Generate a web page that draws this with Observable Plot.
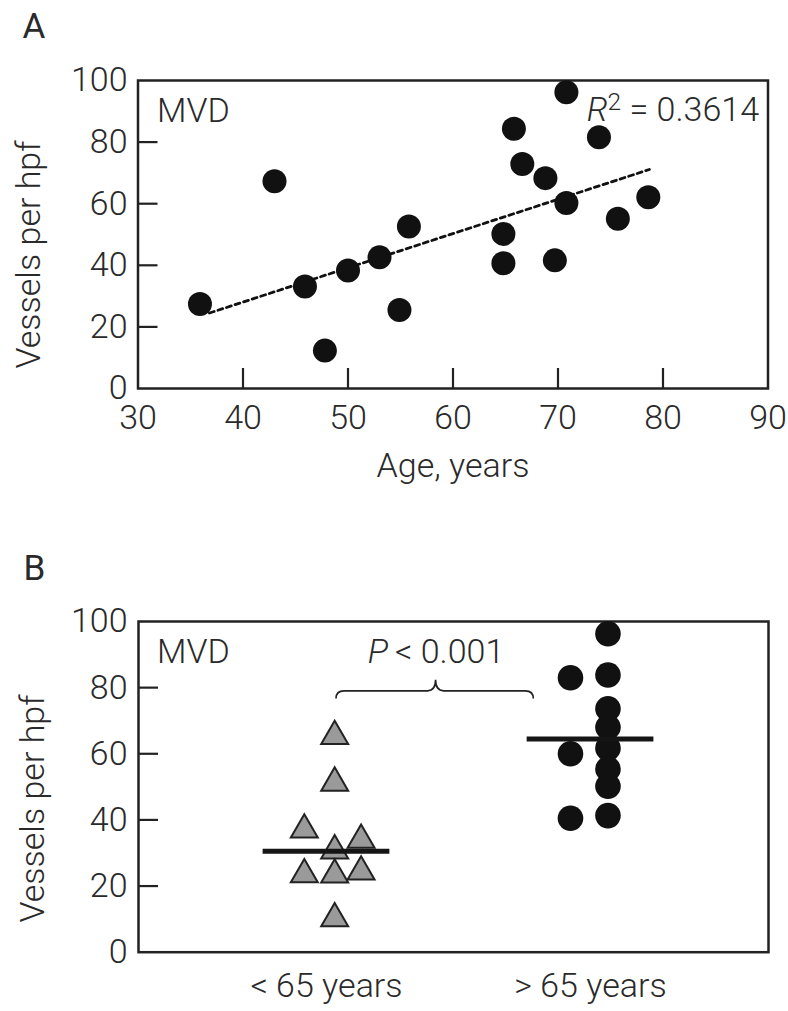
<!DOCTYPE html>
<html>
<head>
<meta charset="utf-8">
<script src="https://cdn.jsdelivr.net/npm/d3@7"></script>
<script src="https://cdn.jsdelivr.net/npm/@observablehq/plot@0.6"></script>
<style>
  html, body { margin: 0; padding: 0; background: #fff; }
  #chart svg { display: block; }
</style>
</head>
<body>
<div id="chart"></div>
<script>
// ---------- Panel A: MVD vs age ----------
const ageA = [35.9, 43, 45.9, 47.8, 50, 53, 54.9, 55.8, 64.8, 64.8, 65.8, 66.6, 68.8, 69.7, 70.8, 70.8, 73.9, 75.7, 78.6];
const mvdA = [27.4, 67.3, 33.1, 12.3, 38.3, 42.6, 25.5, 52.6, 50.2, 40.7, 84.3, 72.9, 68.3, 41.6, 96.2, 60.2, 81.6, 55.1, 62.1];
const fitAge = [36.8, 78.7];
const fitMvd = [24.5, 71.1];
const xTicksA = [30, 40, 50, 60, 70, 80, 90];
const innerTicksXA = [40, 50, 60, 70, 80];
const yTicks = [0, 20, 40, 60, 80, 100];
const innerTicksY = [20, 40, 60, 80];
const r2Label = "R2 = 0.3614";

// ---------- Panel B: MVD by age group ----------
const groupLabels = ["< 65 years", "> 65 years"];
const youngMvd = [65.3, 51.2, 37.0, 33.9, 30.7, 23.5, 23.4, 24.3, 10.2];
const youngOffset = [0.031, 0.031, -0.084, 0.131, 0.031, -0.084, 0.031, 0.131, 0.031];
const oldMvd = [96.3, 83.0, 83.8, 73.6, 68.0, 60.0, 61.7, 55.4, 50.2, 40.5, 41.3];
const oldOffset = [0.066, -0.076, 0.066, 0.066, 0.066, -0.076, 0.066, 0.066, 0.066, -0.076, 0.066];
const groupMeans = [30.5, 64.5];
const pLabel = "P < 0.001";
const braceX = [1.038, 1.415, 1.785];
const braceY = [76.6, 78.9, 82.2]; // end, bar, tip

const FONT = "Roboto, 'Open Sans', 'DejaVu Sans', sans-serif";
const INK = "#222";
const TEXT = "#2a2a2a";
const W = 788;

const baseStyle = {fontFamily: FONT, fontSize: "34px", fontWeight: 300, color: TEXT, background: "white", overflow: "visible"};

// Panel A geometry
const A = {h: 520, top: 80, right: 20.5, bottom: 132, left: 137.5};
const innerWA = W - A.left - A.right, innerHA = A.h - A.top - A.bottom;

const ptsA = ageA.map((a, i) => ({age: a, mvd: mvdA[i]}));
const fitA = fitAge.map((a, i) => ({age: a, mvd: fitMvd[i]}));

const plotA = Plot.plot({
  width: W, height: A.h,
  marginTop: A.top, marginRight: A.right, marginBottom: A.bottom, marginLeft: A.left,
  style: baseStyle,
  x: {domain: [30, 90], ticks: xTicksA, tickSize: 0, tickPadding: 16, label: null},
  y: {domain: [0, 100], ticks: yTicks, tickSize: 0, tickPadding: 10.5, label: null},
  marks: [
    Plot.frame({stroke: INK, strokeWidth: 2.5}),
    Plot.tickY(innerTicksY, {y: d => d, insetRight: innerWA - 20, stroke: INK, strokeWidth: 2.2}),
    Plot.tickX(innerTicksXA, {x: d => d, insetTop: innerHA - 20, stroke: INK, strokeWidth: 2.2}),
    Plot.line(fitA, {x: "age", y: "mvd", stroke: "#111", strokeWidth: 2.8, strokeDasharray: "5,4"}),
    Plot.dot(ptsA, {x: "age", y: "mvd", r: 12, fill: "#111"}),
    Plot.text(["MVD"], {text: d => d, frameAnchor: "top-left", dx: 19, dy: 17, lineAnchor: "top", textAnchor: "start"}),
    Plot.text([r2Label], {text: d => d, frameAnchor: "top-right", dx: -9, dy: 16, lineAnchor: "top", textAnchor: "end"}),
    Plot.text(["Age, years"], {text: d => d, frameAnchor: "bottom", dy: 64, lineAnchor: "top", textAnchor: "middle"}),
    Plot.text(["Vessels per hpf"], {text: d => d, frameAnchor: "left", rotate: -90, textAnchor: "middle", lineAnchor: "middle", dx: -108.5, dy: 20}),
    Plot.text(["A"], {text: d => d, frameAnchor: "top-left", dx: -115.5, dy: -67, lineAnchor: "top", textAnchor: "start", fontWeight: 400, fontSize: 35})
  ]
});

// Panel B geometry
const B = {h: 491, top: 101, right: 20, bottom: 59.3, left: 138};
const innerWB = W - B.left - B.right;

const young = youngMvd.map((v, i) => ({pos: 1 + youngOffset[i], mvd: v}));
const old = oldMvd.map((v, i) => ({pos: 2 + oldOffset[i], mvd: v}));

function braceMark(index, scales) {
  const x = scales.x, y = scales.y;
  const x1 = x(braceX[0]), xm = x(braceX[1]), x2 = x(braceX[2]);
  const yE = y(braceY[0]), yB = y(braceY[1]), yT = y(braceY[2]);
  const r = 8;
  const d = `M${x1},${yE} Q${x1},${yB} ${x1 + r},${yB} L${xm - r},${yB} Q${xm},${yB} ${xm},${yT} Q${xm},${yB} ${xm + r},${yB} L${x2 - r},${yB} Q${x2},${yB} ${x2},${yE}`;
  const p = document.createElementNS("http://www.w3.org/2000/svg", "path");
  p.setAttribute("d", d);
  p.setAttribute("fill", "none");
  p.setAttribute("stroke", INK);
  p.setAttribute("stroke-width", 1.7);
  return p;
}

const plotB = Plot.plot({
  width: W, height: B.h,
  marginTop: B.top, marginRight: B.right, marginBottom: B.bottom, marginLeft: B.left,
  style: baseStyle,
  x: {domain: [0.288, 2.674], ticks: [1, 2], tickFormat: d => groupLabels[d - 1], tickSize: 0, tickPadding: 21, label: null},
  y: {domain: [0, 100], ticks: yTicks, tickSize: 0, tickPadding: 11, label: null},
  marks: [
    Plot.frame({stroke: INK, strokeWidth: 2.5}),
    Plot.tickY(innerTicksY, {y: d => d, insetRight: innerWB - 20, stroke: INK, strokeWidth: 2.2}),
    Plot.dot(young, {x: "pos", y: "mvd", symbol: "triangle", r: 10, fill: "#9a9a9a", stroke: INK, strokeWidth: 2}),
    Plot.dot(old, {x: "pos", y: "mvd", r: 12.8, fill: "#111"}),
    Plot.ruleY(groupMeans, {y: d => d, x1: (d, i) => i + 1 - 0.24, x2: (d, i) => i + 1 + 0.24, stroke: "#151515", strokeWidth: 5}),
    braceMark,
    Plot.text(["MVD"], {text: d => d, frameAnchor: "top-left", dx: 18.6, dy: 17, lineAnchor: "top", textAnchor: "start"}),
    Plot.text([pLabel], {text: d => d, x: () => braceX[1], frameAnchor: "top", dy: 17, lineAnchor: "top", textAnchor: "middle"}),
    Plot.text(["Vessels per hpf"], {text: d => d, frameAnchor: "left", rotate: -90, textAnchor: "middle", lineAnchor: "middle", dx: -105, dy: 21.7}),
    Plot.text(["B"], {text: d => d, frameAnchor: "top-left", dx: -115, dy: -66, lineAnchor: "top", textAnchor: "start", fontWeight: 400, fontSize: 35})
  ]
});

function restyle(svg, match, html) {
  d3.select(svg).selectAll("text").filter(function() { return this.textContent === match; }).html(html);
}
restyle(plotA, r2Label, '<tspan font-style="italic">R</tspan><tspan font-size="0.72em" dy="-11">2</tspan><tspan dy="11"> = 0.3614</tspan>');
restyle(plotB, pLabel, '<tspan font-style="italic">P</tspan><tspan>\u2009&lt; 0.001</tspan>');

const root = document.getElementById("chart");
root.appendChild(plotA);
root.appendChild(plotB);
</script>
</body>
</html>
